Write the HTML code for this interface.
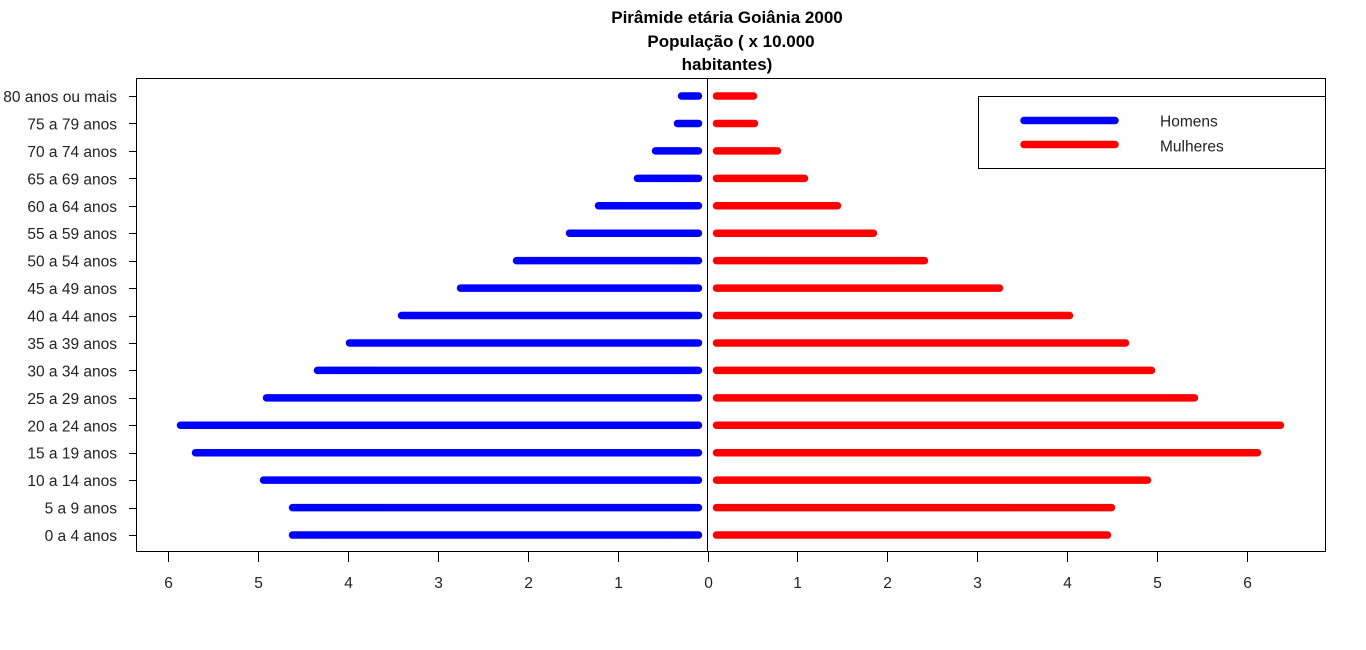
<!DOCTYPE html>
<html><head><meta charset="utf-8"><style>html,body{margin:0;padding:0;background:#fff}svg{display:block}</style></head>
<body>
<svg width="1366" height="650" xmlns="http://www.w3.org/2000/svg" font-family="Liberation Sans, Arial, sans-serif">
<rect width="1366" height="650" fill="#fff"/>
<g font-weight="bold" font-size="17" text-anchor="middle" fill="#000">
<text x="727" y="23">Pirâmide etária Goiânia 2000</text>
<text x="731" y="47">População ( x 10.000</text>
<text x="727" y="70">habitantes)</text>
</g>
<rect x="136.5" y="78.5" width="1189" height="473" fill="none" stroke="#000" stroke-width="1"/>
<line x1="707.5" y1="78" x2="707.5" y2="552" stroke="#000" stroke-width="1"/>
<g id="bars" stroke-width="7.5" stroke-linecap="round"></g>
<g stroke="#000" stroke-width="1" id="ticks"></g>
<g font-size="15.5" fill="#222" id="labels"></g>
<rect x="978.5" y="96.5" width="347" height="72" fill="#fff" stroke="#000" stroke-width="1"/>
<line x1="1024" y1="120.5" x2="1115" y2="120.5" stroke="#0000ff" stroke-width="7.5" stroke-linecap="round"/>
<line x1="1024" y1="144.5" x2="1115" y2="144.5" stroke="#ff0000" stroke-width="7.5" stroke-linecap="round"/>
<text x="1160" y="126.5" font-size="15.5" fill="#222">Homens</text>
<text x="1160" y="151.5" font-size="15.5" fill="#222">Mulheres</text>
<script>
var ns="http://www.w3.org/2000/svg";
var labs=["80 anos ou mais","75 a 79 anos","70 a 74 anos","65 a 69 anos","60 a 64 anos","55 a 59 anos","50 a 54 anos","45 a 49 anos","40 a 44 anos","35 a 39 anos","30 a 34 anos","25 a 29 anos","20 a 24 anos","15 a 19 anos","10 a 14 anos","5 a 9 anos","0 a 4 anos"];
var bl=[678,674,652,634,595,566,513,457,398,346,314,263,177,192,260,289,289];
var rr=[757,758,781,808,841,877,928,1003,1073,1129,1155,1198,1284,1261,1151,1115,1111];
function el(t,a,p){var e=document.createElementNS(ns,t);for(var k in a)e.setAttribute(k,a[k]);document.getElementById(p).appendChild(e);return e;}
for(var i=0;i<17;i++){var y=96+i*27.44;
el("line",{x1:bl[i]+3.5,y1:y,x2:698.5,y2:y,stroke:"#0000ff"},"bars");
el("line",{x1:716.5,y1:y,x2:rr[i]-3.5,y2:y,stroke:"#ff0000"},"bars");
el("line",{x1:129,y1:Math.round(y)+0.5,x2:136,y2:Math.round(y)+0.5},"ticks");
var t=el("text",{x:117,y:y+6,"text-anchor":"end"},"labels");t.textContent=labs[i];}
for(var v=-6;v<=6;v++){var x=Math.round(707.5+v*89.9)+0.5;
el("line",{x1:x,y1:552,x2:x,y2:562},"ticks");
var t=el("text",{x:x,y:588,"text-anchor":"middle"},"labels");t.textContent=Math.abs(v);}
</script>
</svg>
</body></html>
